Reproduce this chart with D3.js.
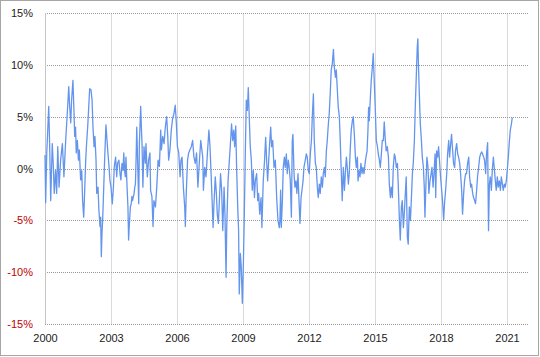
<!DOCTYPE html>
<html>
<head>
<meta charset="utf-8">
<script src="https://cdn.jsdelivr.net/npm/d3@7"></script>
<style>
  body { margin: 0; background: #fff; }
  svg { display: block; }
  .tick text { font-family: "Liberation Sans", Arial, sans-serif; font-size: 11px; }
</style>
</head>
<body>
<svg id="chart" width="540" height="357"></svg>
<script>
(function() {
"use strict";

// [decimal year, value %]
var pts2000 = [[2000.00, 1.3], [2000.03, -3.3], [2000.08, 1.5], [2000.17, 6.0], [2000.21, 2.4], [2000.26, -3.1],
  [2000.33, 2.4], [2000.38, 0.2], [2000.42, -2.4], [2000.48, -0.2], [2000.53, -2.4], [2000.58, 2.1],
  [2000.64, -1.8], [2000.71, 0.8], [2000.79, 2.4], [2000.86, -0.8], [2000.94, 2.7], [2001.02, 5.6],
  [2001.08, 7.9], [2001.12, 6.0], [2001.17, 4.4], [2001.21, 6.6], [2001.27, 8.5], [2001.32, 5.3],
  [2001.35, 3.1], [2001.39, 4.0], [2001.42, 1.5], [2001.47, 2.7], [2001.52, 0.8], [2001.56, 1.8],
  [2001.62, -1.1], [2001.67, -0.2], [2001.71, -3.1], [2001.76, -4.7], [2001.80, -2.4], [2001.85, 0.8],
  [2001.89, 2.4], [2001.94, 4.0], [2001.98, 5.6], [2002.03, 7.7], [2002.09, 7.6], [2002.14, 6.6],
  [2002.18, 4.0], [2002.23, 2.1], [2002.27, 3.1], [2002.32, 0.8], [2002.35, -2.4], [2002.41, -1.8],
  [2002.45, -4.0], [2002.50, -5.6], [2002.53, -4.7], [2002.56, -8.5], [2002.59, -6.3], [2002.62, -5.0],
  [2002.65, -3.1], [2002.71, 0.8], [2002.77, 4.2], [2002.82, 2.7], [2002.86, 1.5], [2002.91, 0.2],
  [2002.95, -1.1], [2003.00, -1.8], [2003.06, -3.4], [2003.11, -1.8], [2003.15, 0.2], [2003.21, 1.1],
  [2003.26, -0.8], [2003.30, 0.5], [2003.36, 0.8], [2003.41, -0.5], [2003.45, -1.1], [2003.50, 0.5]];

var pts2003 = [[2003.55, -0.2], [2003.58, 1.5], [2003.62, -0.2], [2003.65, -0.8], [2003.68, 1.1], [2003.73, -1.8],
  [2003.77, -3.7], [2003.80, -6.9], [2003.83, -5.6], [2003.88, -3.7], [2003.92, -3.4], [2003.95, -2.7],
  [2003.98, -3.1], [2004.05, -2.4], [2004.08, -1.8], [2004.11, -1.5], [2004.14, 0.8], [2004.17, 4.0],
  [2004.21, 0.8], [2004.26, -3.4], [2004.29, 2.4], [2004.35, 6.0], [2004.38, 4.0], [2004.41, 2.4],
  [2004.45, -1.8], [2004.50, 2.1], [2004.56, 0.5], [2004.59, 2.4], [2004.65, -0.8], [2004.71, 0.8],
  [2004.77, 1.5], [2004.80, -2.1], [2004.86, -2.7], [2004.91, -5.6], [2004.95, -3.1], [2005.02, -3.7],
  [2005.08, -1.8], [2005.14, 0.8], [2005.20, 0.2], [2005.26, 3.7], [2005.29, 1.8], [2005.35, 3.1],
  [2005.41, 2.4], [2005.47, 4.0], [2005.53, 5.0], [2005.58, 3.1], [2005.62, 0.8], [2005.68, 1.8],
  [2005.74, 3.7], [2005.80, 4.8], [2005.86, 5.3], [2005.92, 6.1], [2005.97, 4.4], [2006.02, 2.1],
  [2006.08, 1.5], [2006.14, -0.8], [2006.18, 0.8], [2006.23, 1.1], [2006.29, -1.8], [2006.35, -3.7],
  [2006.38, -5.6], [2006.42, -2.4], [2006.48, 0.8], [2006.53, 1.5], [2006.59, 1.8], [2006.65, 2.1],
  [2006.71, 2.7], [2006.77, 1.1], [2006.83, 0.5], [2006.89, 1.5], [2006.95, -1.8], [2007.02, 0.8],
  [2007.08, 2.7]];

var pts2007 = [[2007.17, 1.1], [2007.20, -2.1], [2007.26, 0.1], [2007.32, -0.8], [2007.38, 1.4], [2007.45, 3.7],
  [2007.50, 2.1], [2007.55, -0.5], [2007.59, -2.8], [2007.64, -5.7], [2007.68, -3.4], [2007.74, -0.8],
  [2007.79, -2.4], [2007.83, -4.4], [2007.88, -5.3], [2007.92, -3.4], [2007.98, -0.5], [2008.03, -2.1],
  [2008.08, -6.0], [2008.14, -1.8], [2008.18, -4.4], [2008.23, -10.5], [2008.26, -5.7], [2008.32, -1.2],
  [2008.38, 0.8], [2008.42, 2.1], [2008.48, 4.3], [2008.53, 2.7], [2008.58, 3.7], [2008.62, 2.1],
  [2008.67, 4.1], [2008.71, 0.1], [2008.76, -3.7], [2008.80, -6.0], [2008.83, -12.1], [2008.88, -8.2],
  [2008.92, -9.5], [2008.97, -13.0], [2009.02, -8.9], [2009.06, -4.4], [2009.11, 2.1], [2009.15, 6.6],
  [2009.20, 5.6], [2009.24, 7.8], [2009.29, 4.6], [2009.33, 2.1], [2009.38, 0.8], [2009.42, -2.1],
  [2009.47, -0.2], [2009.52, -2.8], [2009.56, -1.2], [2009.62, -0.5], [2009.67, -3.1], [2009.71, -2.4],
  [2009.76, -4.4], [2009.82, -2.8], [2009.86, -5.7], [2009.92, -1.2], [2009.98, 0.8], [2010.03, 3.0],
  [2010.08, 0.5], [2010.12, -1.2], [2010.17, 0.8], [2010.21, 2.4], [2010.26, 4.0], [2010.30, 2.1],
  [2010.35, 2.7], [2010.41, 0.1], [2010.47, 0.8], [2010.53, -2.8], [2010.59, -5.0], [2010.65, -5.7]];

var pts2010 = [[2010.68, -5.0], [2010.71, -2.1], [2010.74, -5.7], [2010.79, -3.1], [2010.83, 0.1], [2010.88, 1.1],
  [2010.92, 0.1], [2010.97, 1.4], [2011.01, -0.5], [2011.06, 0.8], [2011.10, 0.1], [2011.15, -1.2],
  [2011.20, -4.7], [2011.24, 2.7], [2011.27, 3.3], [2011.32, -0.5], [2011.36, -1.8], [2011.41, -1.2],
  [2011.45, -2.4], [2011.50, -0.5], [2011.54, -2.8], [2011.59, -5.3], [2011.64, -2.8], [2011.68, -2.1],
  [2011.73, -1.2], [2011.77, 0.1], [2011.83, 0.8], [2011.88, 1.4], [2011.92, 1.1], [2011.97, -0.2],
  [2012.01, -0.5], [2012.06, 1.4], [2012.11, 2.7], [2012.15, 5.0], [2012.20, 7.2], [2012.24, 2.7],
  [2012.29, 0.5], [2012.33, 0.1], [2012.38, -1.8], [2012.42, -2.8], [2012.47, -1.5], [2012.51, -2.4],
  [2012.56, -0.8], [2012.61, -1.8], [2012.65, -0.5], [2012.70, 0.1], [2012.74, -0.8], [2012.79, 1.7],
  [2012.83, 2.7], [2012.88, 4.3], [2012.92, 5.3], [2012.97, 7.5], [2013.01, 9.5], [2013.06, 10.1],
  [2013.11, 11.5], [2013.15, 9.8], [2013.20, 8.8], [2013.24, 9.5], [2013.29, 7.5], [2013.33, 5.9],
  [2013.38, 5.0], [2013.42, 2.7], [2013.47, -0.5], [2013.51, -3.1], [2013.56, 0.1], [2013.61, -2.1],
  [2013.65, -0.5], [2013.70, 1.1], [2013.74, 0.1], [2013.79, -1.5], [2013.83, -0.5], [2013.88, 2.1],
  [2013.92, 3.7], [2013.97, 4.6], [2014.01, 5.0], [2014.06, 3.3], [2014.11, 1.1], [2014.15, 0.1],
  [2014.20, 1.1]];

var pts2014 = [[2014.23, -1.2], [2014.27, -0.2], [2014.32, -0.8], [2014.36, 0.5], [2014.41, -0.5], [2014.45, 0.1],
  [2014.50, -0.5], [2014.55, 0.5], [2014.59, 1.1], [2014.64, 1.7], [2014.68, 3.7], [2014.71, 5.9],
  [2014.74, 4.6], [2014.79, 6.9], [2014.83, 8.5], [2014.88, 9.8], [2014.92, 11.1], [2014.97, 8.2],
  [2015.01, 5.9], [2015.06, 2.7], [2015.11, 2.1], [2015.15, 1.4], [2015.20, 0.8], [2015.24, 0.1],
  [2015.29, 1.4], [2015.33, 2.7], [2015.38, 2.7], [2015.42, 4.5], [2015.47, 2.7], [2015.51, 1.7],
  [2015.56, 2.1], [2015.61, 1.1], [2015.65, -1.5], [2015.70, -2.8], [2015.74, -1.8], [2015.79, -2.8],
  [2015.83, 0.1], [2015.88, 1.4], [2015.92, 1.1], [2015.97, 0.1], [2016.02, 0.5], [2016.06, -1.8],
  [2016.11, -5.0], [2016.15, -6.9], [2016.20, -3.7], [2016.24, -3.1], [2016.29, -5.7], [2016.33, -4.4],
  [2016.38, -2.4], [2016.42, -0.8], [2016.47, -6.6], [2016.51, -7.3], [2016.56, -3.7], [2016.61, -5.0],
  [2016.65, -3.1], [2016.70, -0.5], [2016.74, 0.5], [2016.79, 2.7], [2016.83, 5.9], [2016.88, 9.1],
  [2016.92, 11.7], [2016.95, 12.5], [2016.97, 10.4], [2017.01, 7.5], [2017.06, 4.3], [2017.11, 2.7],
  [2017.15, 1.1], [2017.20, 0.1], [2017.24, -1.8], [2017.27, -4.7], [2017.32, -1.2], [2017.36, 1.1],
  [2017.41, 0.1], [2017.45, -2.4], [2017.50, -1.2], [2017.55, -0.5], [2017.59, 0.1], [2017.64, -1.8],
  [2017.68, -0.5], [2017.73, 1.4]];

var pts2017 = [[2017.76, -2.8], [2017.80, 1.7], [2017.85, 1.1], [2017.89, 2.1], [2017.94, 0.5], [2017.98, -0.8],
  [2018.03, -2.1], [2018.07, -3.1], [2018.12, -5.0], [2018.16, -3.4], [2018.21, -2.1], [2018.26, -0.5],
  [2018.30, 1.4], [2018.35, 2.7], [2018.39, 1.1], [2018.44, 2.4], [2018.48, 3.3], [2018.53, 1.7],
  [2018.57, 0.5], [2018.62, 0.1], [2018.66, 1.7], [2018.71, 2.4], [2018.76, 1.4], [2018.80, 1.1],
  [2018.85, 0.5], [2018.89, -0.5], [2018.94, -2.1], [2018.98, -4.4], [2019.03, -2.4], [2019.07, -1.2],
  [2019.12, -0.5], [2019.16, -0.5], [2019.21, 0.5], [2019.26, 1.1], [2019.30, -0.8], [2019.35, -1.8],
  [2019.39, -1.5], [2019.44, -2.4], [2019.48, -2.8], [2019.53, -3.1], [2019.57, -3.4], [2019.62, -2.1],
  [2019.66, -0.8], [2019.71, 0.1], [2019.76, 1.1], [2019.80, 1.4], [2019.85, 1.6], [2019.89, 1.4],
  [2019.94, 1.1], [2019.98, 0.8], [2020.03, -0.5], [2020.07, 1.4], [2020.12, 2.5], [2020.16, -6.0],
  [2020.20, -1.5], [2020.24, -0.8], [2020.29, -2.1], [2020.33, -0.2], [2020.38, 1.1], [2020.42, 0.1],
  [2020.47, -1.2], [2020.51, -2.1], [2020.56, -0.8], [2020.60, -1.8], [2020.65, -1.2], [2020.70, -2.1],
  [2020.74, -0.8], [2020.79, -1.5], [2020.83, -2.1], [2020.88, -1.5], [2020.92, -1.8], [2020.97, -1.2],
  [2021.01, -0.2], [2021.06, 1.1], [2021.10, 2.4], [2021.15, 3.7], [2021.20, 4.3], [2021.24, 4.9]];

var yearTicks = [2000, 2003, 2006, 2009, 2012, 2015, 2018, 2021];
var pctTicks = [-15, -10, -5, 0, 5, 10, 15];

var data = [].concat(pts2000, pts2003, pts2007, pts2010, pts2014, pts2017)
  .map(function(p) { return { t: p[0], v: p[1] }; });

var svg = d3.select("#chart");

svg.append("rect")
  .attr("x", 0.5).attr("y", 0.5)
  .attr("width", 538).attr("height", 355)
  .attr("fill", "#fff")
  .attr("stroke", "#a6a6a6");

var x = d3.scaleLinear().domain([2000, 2022]).range([45, 529]);
var y = d3.scaleLinear().domain([-15, 15]).range([324, 13]);

// vertical grid
svg.append("g")
  .selectAll("line")
  .data(yearTicks.slice(1))
  .enter().append("line")
  .attr("x1", function(d) { return Math.round(x(d)) + 0.5; })
  .attr("x2", function(d) { return Math.round(x(d)) + 0.5; })
  .attr("y1", y(15)).attr("y2", y(-15))
  .attr("stroke", "#dadada");

// horizontal grid (dotted)
svg.append("g")
  .selectAll("line")
  .data(pctTicks)
  .enter().append("line")
  .attr("x1", x(2000)).attr("x2", x(2022))
  .attr("y1", function(d) { return Math.round(y(d)) + 0.5; })
  .attr("y2", function(d) { return Math.round(y(d)) + 0.5; })
  .attr("stroke", "#9a9a9a")
  .attr("stroke-dasharray", "1,1");

// y axis line
svg.append("line")
  .attr("x1", Math.round(x(2000)) + 0.5).attr("x2", Math.round(x(2000)) + 0.5)
  .attr("y1", y(15)).attr("y2", y(-15))
  .attr("stroke", "#c4c4c4");

var yAxis = svg.append("g")
  .attr("transform", "translate(" + (x(2000) - 3) + ",0)")
  .call(d3.axisLeft(y).tickValues(pctTicks).tickSize(0).tickPadding(9)
    .tickFormat(function(d) { return d + "%"; }));
yAxis.select(".domain").remove();
yAxis.selectAll("text")
  .attr("fill", function(d) { return d < 0 ? "#c00000" : "#222"; });

var xAxis = svg.append("g")
  .attr("transform", "translate(0," + y(-15) + ")")
  .call(d3.axisBottom(x).tickValues(yearTicks).tickSize(0).tickPadding(10)
    .tickFormat(d3.format("d")));
xAxis.select(".domain").remove();
xAxis.selectAll("text").attr("fill", "#222");

var line = d3.line()
  .x(function(d) { return x(d.t); })
  .y(function(d) { return y(d.v); });

svg.append("path")
  .datum(data)
  .attr("d", line)
  .attr("fill", "none")
  .attr("stroke", "#6495ed")
  .attr("stroke-width", 1.3)
  .attr("stroke-linejoin", "round");

})();
</script>
</body>
</html>
